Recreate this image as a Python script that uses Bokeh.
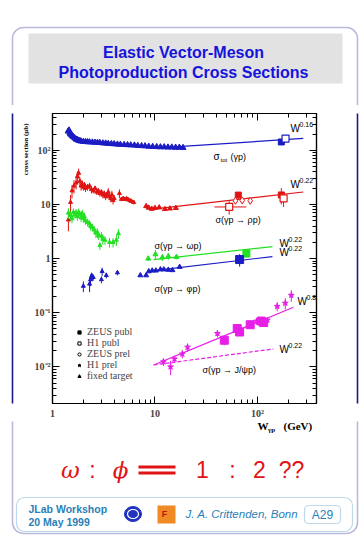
import math
from bokeh.plotting import figure
from bokeh.layouts import column, row
from bokeh.models import (Label, BoxAnnotation, FixedTicker, LogAxis, Legend,
                          LegendItem, Range1d)
from bokeh.embed import file_html
from bokeh.resources import INLINE

# ---------------- data (W in GeV, sigma in microbarn) ----------------
# total photoproduction cross section, low energy
tot_W = [1.42, 1.45, 1.48, 1.5, 1.53, 1.56, 1.6, 1.65, 1.7, 1.75, 1.8, 1.85, 1.9,
         2.0, 2.1, 2.2, 2.3, 2.45, 2.6, 2.75, 2.9, 3.1, 3.3, 3.5, 3.75, 4.0, 4.3,
         4.6, 5.0, 5.4, 5.8, 6.3, 6.8, 7.4, 8.0, 8.7, 9.5, 10.4, 11.3, 12.3, 13.4,
         14.6, 15.9, 17.3, 18.8]
tot_S = [225, 235, 210, 200, 195, 185, 178, 168, 160, 158, 152, 150, 147,
         145, 144, 143, 142, 141, 140, 139, 138, 136, 135, 133, 132, 131, 129,
         128, 127, 126, 125, 124, 122, 121, 120, 118, 117, 116, 115, 115, 114,
         114, 113, 113, 112]
tot_zeus_W, tot_zeus_S, tot_zeus_E = [171], [143], [12]
tot_h1_W, tot_h1_S, tot_h1_E = [188], [165], [10]
tot_fit_W, tot_fit_S = [10, 280], [110, 166]

# rho
rho_W = [1.43, 1.5, 1.55, 1.62, 1.7, 1.75, 1.8, 1.85, 1.9, 1.95, 2.0, 2.05, 2.1,
         2.2, 2.3, 2.4, 2.5, 2.6, 2.7, 2.8, 2.9, 3.0, 3.1, 3.2, 3.3, 3.4, 3.5,
         3.6, 3.7, 3.8, 3.9, 4.0, 4.5, 4.7, 4.9, 5.1, 5.3, 5.5, 5.7, 5.9, 6.2]
rho_S = [5.2, 11, 18, 22, 25, 33, 38, 27, 22, 24, 21, 23, 20,
         21, 22, 19, 18, 20, 17, 18, 16, 17, 15, 16, 14, 15, 17,
         14, 13, 15, 12, 13, 16, 12.5, 13, 12.5, 12.8, 12.2, 11.8, 11.5, 11]
rho_E = [2, 4, 5, 6, 6, 8, 8, 5, 4, 4, 3, 3, 3,
         3, 3, 3, 2, 2, 2, 2, 2, 2, 2, 2, 2, 2, 3,
         2, 2, 3, 2, 2, 3, 1, 1, 1, 1, 1, 1, 1, 1]
rho_ft_W = [8.2, 8.7, 9.3, 10.0, 11.0, 12.5, 14.0, 16.0]
rho_ft_S = [9.3, 8.7, 8.3, 8.6, 8.8, 8.2, 8.4, 8.6]
rho_ft_E = [0.5, 0.5, 0.5, 0.5, 0.4, 0.5, 0.4, 0.4]
rho_zeus_W, rho_zeus_S, rho_zeus_E = [65, 171], [14.9, 15.0], [2.0, 5.0]
rho_h1_W, rho_h1_S, rho_h1_E = [53, 180], [9.0, 13.0], [2.5, 4.0]
rho_h1_Wlo, rho_h1_Whi = [38, 180], [78, 180]
rho_zp_W, rho_zp_S = [61, 71, 85], [11.7, 11.9, 11.7]
rho_fit_W, rho_fit_S = [10, 280], [8.3, 17.0]

# omega
om_W = [1.43, 1.5, 1.55, 1.6, 1.65, 1.7, 1.75, 1.8, 1.85, 1.9, 1.95, 2.0, 2.05,
        2.1, 2.2, 2.3, 2.35, 2.45, 2.55, 2.65, 2.75, 2.8, 2.9, 3.0, 3.1, 3.25,
        3.6, 3.9, 4.2, 4.4]
om_S = [7.0, 6.3, 5.5, 7.2, 6.5, 7.0, 6.0, 7.2, 6.5, 5.7, 6.8, 5.6, 6.0,
        5.0, 4.7, 4.4, 4.0, 3.8, 3.4, 3.0, 3.0, 2.7, 1.75, 2.6, 2.3, 2.2,
        2.0, 2.0, 2.2, 2.9]
om_E = [1.5, 1.2, 1.0, 1.3, 1.0, 1.2, 1.0, 1.2, 1.0, 1.0, 1.2, 1.0, 1.0,
        0.8, 0.8, 0.7, 0.7, 0.6, 0.6, 0.6, 0.6, 0.5, 0.3, 0.5, 0.5, 0.4,
        0.4, 0.4, 0.5, 0.6]
om_ft_W = [8.6, 10.1, 11.8, 13.5, 16.2]
om_ft_S = [1.0, 1.2, 1.05, 1.1, 1.07]
om_ft_E = [0.1, 0.25, 0.15, 0.15, 0.1]
om_zeus_W, om_zeus_S, om_zeus_E = [78], [1.24], [0.2]
om_fit_W, om_fit_S = [9.7, 140], [0.96, 1.66]

# phi
phi_W = [2.0, 2.3, 2.35, 2.4, 2.45, 2.5, 3.0, 3.05, 3.35, 4.3]
phi_S = [0.31, 0.34, 0.41, 0.47, 0.46, 0.45, 0.41, 0.58, 0.49, 0.55]
phi_E = [0.07, 0.1, 0.1, 0.08, 0.07, 0.06, 0.06, 0.1, 0.06, 0.06]
phi_ft_W = [7.2, 8.2, 8.7, 9.4, 10.2, 11.3, 12.2, 13.5, 14.8, 17.4]
phi_ft_S = [0.49, 0.49, 0.58, 0.6, 0.6, 0.63, 0.63, 0.62, 0.61, 0.7]
phi_ft_E = [0.03, 0.03, 0.03, 0.03, 0.03, 0.04, 0.03, 0.03, 0.03, 0.04]
phi_zeus_W, phi_zeus_S, phi_zeus_E = [67], [0.96], [0.25]
phi_fit_W, phi_fit_S = [9.7, 140], [0.6, 1.09]

# J/psi
jp_h1_W = [12.1, 14.2, 15.5, 18.5, 20.8, 40.7, 98, 125, 156, 187, 214]
jp_h1_S = [0.0124, 0.010, 0.014, 0.0173, 0.0231, 0.0413, 0.070, 0.073, 0.131, 0.15, 0.21]
jp_h1_E = [0.002, 0.003, 0.002, 0.003, 0.004, 0.006, 0.01, 0.01, 0.025, 0.035, 0.05]
jp_zeus_W = [47.5, 63.5, 67, 85, 109, 115]
jp_zeus_S = [0.031, 0.051, 0.044, 0.060, 0.070, 0.066]
jp_zeus_E = [0.006, 0.006, 0.006, 0.006, 0.008, 0.008]
jp_fit8_W, jp_fit8_S = [9.7, 225], [0.0108, 0.126]
jp_fit22_W, jp_fit22_S = [9.7, 143], [0.0108, 0.0214]

y_ticks = [0.01, 0.1, 1, 10, 100]
y_labels = ["10⁻²", "10⁻¹", "1", "10", "10²"]
x_ticks = [1, 10, 100]
x_labels = ["1", "10", "10²"]
legend_labels = ["ZEUS publ", "H1 publ", "ZEUS prel", "H1 prel", "fixed target"]

# ---------------- styling ----------------
BLUE = "#1c1cc4"
RED = "#e01414"
GREEN = "#22e022"
MAG = "#e61ee6"
NAVY = "#1a1a8a"
TEAL = "#2a7fb8"
TITLE = "#1414dc"

# page layout (pixels)
TOP_H = 105          # header strip height
MID_H = 316          # plot row height
BOT_H = 535 - TOP_H - MID_H
LEFT_W = 30
MAIN_W = 300
RIGHT_W = 363 - LEFT_W - MAIN_W

FL, FB = 52, 405  # page position of plot frame left / bottom


def deco(x0, x1, y0, y1):
    f = figure(width=x1 - x0, height=y1 - y0, x_range=Range1d(x0, x1),
               y_range=Range1d(y1, y0), output_backend="svg",
               toolbar_location=None, min_border=0,
               x_axis_location=None, y_axis_location=None)
    f.grid.visible = False
    f.outline_line_color = None
    f.background_fill_color = "white"
    f.border_fill_color = "white"
    return f


def T(f, x, y, text, size, font="Liberation Sans", style="normal", color="black",
      align="left", angle=0.0, units="data"):
    # y is the visual middle of the text line
    f.add_layout(Label(x=x, y=y, x_units=units, y_units=units, text=text,
                       text_font=font, text_font_size=f"{size}px",
                       text_font_style=style, text_color=color, text_align=align,
                       text_baseline="middle", angle=angle))


def box(f, l, r, t, b, **kw):
    f.add_layout(BoxAnnotation(left=l, right=r, top=t, bottom=b, **kw))


# ---------------- main plot ----------------
p = figure(width=MAIN_W, height=MID_H, x_axis_type="log", y_axis_type="log",
           x_range=Range1d(1, 377), y_range=Range1d(0.0021, 480),
           output_backend="svg", toolbar_location=None,
           min_border_left=22, min_border_right=14,
           min_border_top=8, min_border_bottom=16)
p.grid.visible = False
p.outline_line_color = "black"
p.outline_line_width = 1.2
p.background_fill_color = "white"
p.border_fill_color = "white"

bottom_ax = p.below[0]
left_ax = p.left[0]
top_ax = LogAxis()
right_ax = LogAxis()
p.add_layout(top_ax, "above")
p.add_layout(right_ax, "right")

minor_y = [k * 10.0 ** d for d in range(-3, 3) for k in range(2, 10)]
minor_x = [k * 10.0 ** d for d in range(0, 3) for k in range(2, 10)]

for ax, ticks, minors, labels in [(bottom_ax, x_ticks, minor_x, x_labels),
                                  (left_ax, y_ticks, minor_y, y_labels),
                                  (top_ax, x_ticks, minor_x, None),
                                  (right_ax, y_ticks, minor_y, None)]:
    ax.ticker = FixedTicker(ticks=ticks, minor_ticks=minors)
    ax.major_tick_in = 7
    ax.major_tick_out = 0
    ax.minor_tick_in = 4
    ax.minor_tick_out = 0
    ax.axis_line_color = "black"
    ax.axis_line_width = 1.2
    ax.major_tick_line_color = "black"
    ax.minor_tick_line_color = "black"
    ax.major_label_text_font = "Liberation Serif"
    ax.major_label_text_font_style = "bold"
    if labels is None:
        ax.major_label_overrides = {t: "" for t in ticks}
        ax.major_label_text_font_size = "1px"
        ax.major_label_standoff = 0
    else:
        ax.major_label_overrides = {t: l for t, l in zip(ticks, labels)}
        ax.major_label_text_font_size = "10px"
        ax.major_label_standoff = 4 if ax is bottom_ax else 2


def errs(W, S, E, color, width=1):
    p.segment(x0=W, y0=[s - e for s, e in zip(S, E)], x1=W,
              y1=[s + e for s, e in zip(S, E)], line_color=color, line_width=width)


# fit lines
p.line(tot_fit_W, tot_fit_S, line_color=BLUE, line_width=1.2)
p.line(rho_fit_W, rho_fit_S, line_color=RED, line_width=1.2)
p.line(om_fit_W, om_fit_S, line_color=GREEN, line_width=1.2)
p.line(phi_fit_W, phi_fit_S, line_color=BLUE, line_width=1.2)
p.line(jp_fit8_W, jp_fit8_S, line_color=MAG, line_width=1.2)
p.line(jp_fit22_W, jp_fit22_S, line_color=MAG, line_width=1.2, line_dash="4 2")

# total
errs(tot_W, tot_S, [0.05 * s for s in tot_S], BLUE)
p.scatter(tot_W, tot_S, marker="triangle", size=6, color=BLUE)
errs(tot_zeus_W, tot_zeus_S, tot_zeus_E, BLUE)
p.scatter(tot_zeus_W, tot_zeus_S, marker="square", size=6, color=BLUE)
p.scatter(tot_h1_W, tot_h1_S, marker="square", size=7, line_color=BLUE,
          fill_color="white", line_width=1.2)

# rho
errs(rho_W, rho_S, rho_E, RED)
p.scatter(rho_W, rho_S, marker="triangle", size=4, color=RED)
errs(rho_ft_W, rho_ft_S, rho_ft_E, RED)
p.scatter(rho_ft_W, rho_ft_S, marker="triangle", size=5, color=RED)
p.segment(x0=rho_h1_Wlo, y0=rho_h1_S, x1=rho_h1_Whi, y1=rho_h1_S, line_color=RED)
errs(rho_h1_W, rho_h1_S, rho_h1_E, RED)
errs(rho_zeus_W, rho_zeus_S, rho_zeus_E, RED)
p.scatter(rho_zeus_W, rho_zeus_S, marker="square", size=6, color=RED)
p.scatter(rho_h1_W, rho_h1_S, marker="square", size=7, line_color=RED,
          fill_color="white", line_width=1.2)
p.scatter(rho_zp_W, rho_zp_S, marker="diamond", size=7, line_color=RED,
          fill_color="white")

# omega
errs(om_W, om_S, om_E, GREEN)
p.scatter(om_W, om_S, marker="triangle", size=4, color=GREEN)
errs(om_ft_W, om_ft_S, om_ft_E, GREEN)
p.scatter(om_ft_W, om_ft_S, marker="triangle", size=5, color=GREEN)
errs(om_zeus_W, om_zeus_S, om_zeus_E, GREEN)
p.scatter(om_zeus_W, om_zeus_S, marker="square", size=7, color=GREEN)

# phi
errs(phi_W, phi_S, phi_E, BLUE)
p.scatter(phi_W, phi_S, marker="triangle", size=4, color=BLUE)
errs(phi_ft_W, phi_ft_S, phi_ft_E, BLUE)
p.scatter(phi_ft_W, phi_ft_S, marker="triangle", size=5, color=BLUE)
errs(phi_zeus_W, phi_zeus_S, phi_zeus_E, BLUE)
p.scatter(phi_zeus_W, phi_zeus_S, marker="square", size=8, color=BLUE)

# J/psi
errs(jp_h1_W, jp_h1_S, jp_h1_E, MAG)
p.scatter(jp_h1_W, jp_h1_S, marker="star", size=6, color=MAG)
errs(jp_zeus_W, jp_zeus_S, jp_zeus_E, MAG)
p.scatter(jp_zeus_W, jp_zeus_S, marker="square", size=8, color=MAG)

# legend (proxy renderers, not drawn in the plot)
nan = [float("nan")]
r1 = p.scatter(nan, nan, marker="square", size=6, color="black")
r2 = p.scatter(nan, nan, marker="square", size=7, line_color="black", fill_color=None)
r3 = p.scatter(nan, nan, marker="circle", size=5, line_color="black", fill_color=None)
r4 = p.scatter(nan, nan, marker="star", size=7, color="black")
r5 = p.scatter(nan, nan, marker="triangle", size=6, color="black")
legend = Legend(items=[LegendItem(label=lab, renderers=[r])
                       for lab, r in zip(legend_labels, [r1, r2, r3, r4, r5])],
                location=(23, 22), background_fill_alpha=0, border_line_alpha=0,
                label_text_font="Liberation Serif", label_text_font_size="10px",
                glyph_width=8, glyph_height=8, label_height=8, spacing=0,
                padding=0, margin=0, label_standoff=4)
p.add_layout(legend)


def PL(px, py, text, size, **kw):
    # label inside the plot frame, positioned in page pixels
    T(p, px - FL, FB - py, text, size, units="screen", **kw)


def WL(px, pyc, exp):
    PL(px, pyc, "W", 10)
    PL(px + 9, pyc - 4, exp, 7)


WL(290, 129.5, "0.16")
PL(213, 158, "σ", 10)
PL(220, 161, "tot", 6)
PL(230, 158, "(γp)", 9)
WL(290, 186, "0.22")
PL(215, 221.5, "σ(γp → ρp)", 9)
PL(154, 247.5, "σ(γp → ωp)", 9)
WL(279, 245, "0.22")
WL(279, 253.5, "0.22")
PL(154, 290, "σ(γp → φp)", 9)
WL(297, 302.5, "0.8")
WL(279, 350.5, "0.22")
PL(202, 371, "σ(γp → J/ψp)", 9)

# ---------------- header ----------------
head = deco(0, 363, 0, TOP_H)
box(head, 12, 357, 27, 900, fill_alpha=0, line_color=NAVY, line_width=1.6,
    border_radius=11)
box(head, 28, 342, 33, 83, fill_color="#e2e2e2", fill_alpha=1, line_alpha=0)
T(head, 183, 52, "Elastic Vector-Meson", 16, style="bold", color=TITLE, align="center")
T(head, 183, 71.5, "Photoproduction Cross Sections", 16, style="bold", color=TITLE,
  align="center")

# ---------------- side strips ----------------
lstrip = deco(0, LEFT_W, TOP_H, TOP_H + MID_H)
lstrip.segment(x0=[12], y0=[0], x1=[12], y1=[900], line_color=NAVY, line_width=1.6)
T(lstrip, 25.5, 144, "cross section (µb)", 7, font="Liberation Serif", style="bold",
  align="center", angle=math.pi / 2)

rstrip = deco(LEFT_W + MAIN_W, 363, TOP_H, TOP_H + MID_H)
rstrip.segment(x0=[357], y0=[0], x1=[357], y1=[900], line_color=NAVY, line_width=1.6)

# ---------------- footer ----------------
y0f = TOP_H + MID_H
foot = deco(0, 363, y0f, 535)
box(foot, 12, 357, -400, 533, fill_alpha=0, line_color=NAVY, line_width=1.6,
    border_radius=11)
T(foot, 257, 425, "W", 11, font="Liberation Serif", style="bold")
T(foot, 267.5, 429, "γp", 7, font="Liberation Serif", style="bold")
T(foot, 283, 425, "(GeV)", 11, font="Liberation Serif", style="bold")

BIG = 469
T(foot, 70, BIG, "ω", 23, font="DejaVu Serif", style="italic", color=RED, align="center")
T(foot, 92, BIG, ":", 23, color=RED, align="center")
T(foot, 120, BIG, "ϕ", 23, font="DejaVu Serif", style="italic", color=RED, align="center")
box(foot, 138, 175, 465, 468, fill_color=RED, fill_alpha=1, line_alpha=0)
box(foot, 138, 175, 471, 474, fill_color=RED, fill_alpha=1, line_alpha=0)
T(foot, 202, BIG, "1", 23, color=RED, align="center")
T(foot, 232, BIG, ":", 23, color=RED, align="center")
T(foot, 259, BIG, "2", 23, color=RED, align="center")
T(foot, 291, BIG, "??", 23, color=RED, align="center")

box(foot, 16, 352, 497, 531, fill_alpha=0, line_color=TEAL, line_width=1.2,
    border_radius=8)
T(foot, 28, 508.5, "JLab Workshop", 10.5, style="bold", color=TEAL)
T(foot, 28, 521.5, "20 May 1999", 10.5, style="bold", color=TEAL)
foot.ellipse(x=[132.5], y=[513.5], width=17, height=15, fill_color="#2233c0",
             line_color="#2233c0")
foot.ellipse(x=[132.5], y=[513.5], width=11, height=9, fill_alpha=0,
             line_color="white", line_width=1.2)
box(foot, 157, 175, 505, 523, fill_color="#f08a24", fill_alpha=1, line_alpha=0)
T(foot, 164, 513, "F", 9, style="bold", color="#c01010", align="center")
T(foot, 185, 513.5, "J. A. Crittenden, Bonn", 11.5, style="italic", color=TEAL)
box(foot, 304, 340, 505, 523, fill_alpha=0, line_color=TEAL, line_width=1.2,
    border_radius=4)
T(foot, 322, 514, "A29", 12, color=TEAL, align="center")

layout = column(head, row(lstrip, p, rstrip), foot)
open("out.html", "w").write(file_html(layout, INLINE))
